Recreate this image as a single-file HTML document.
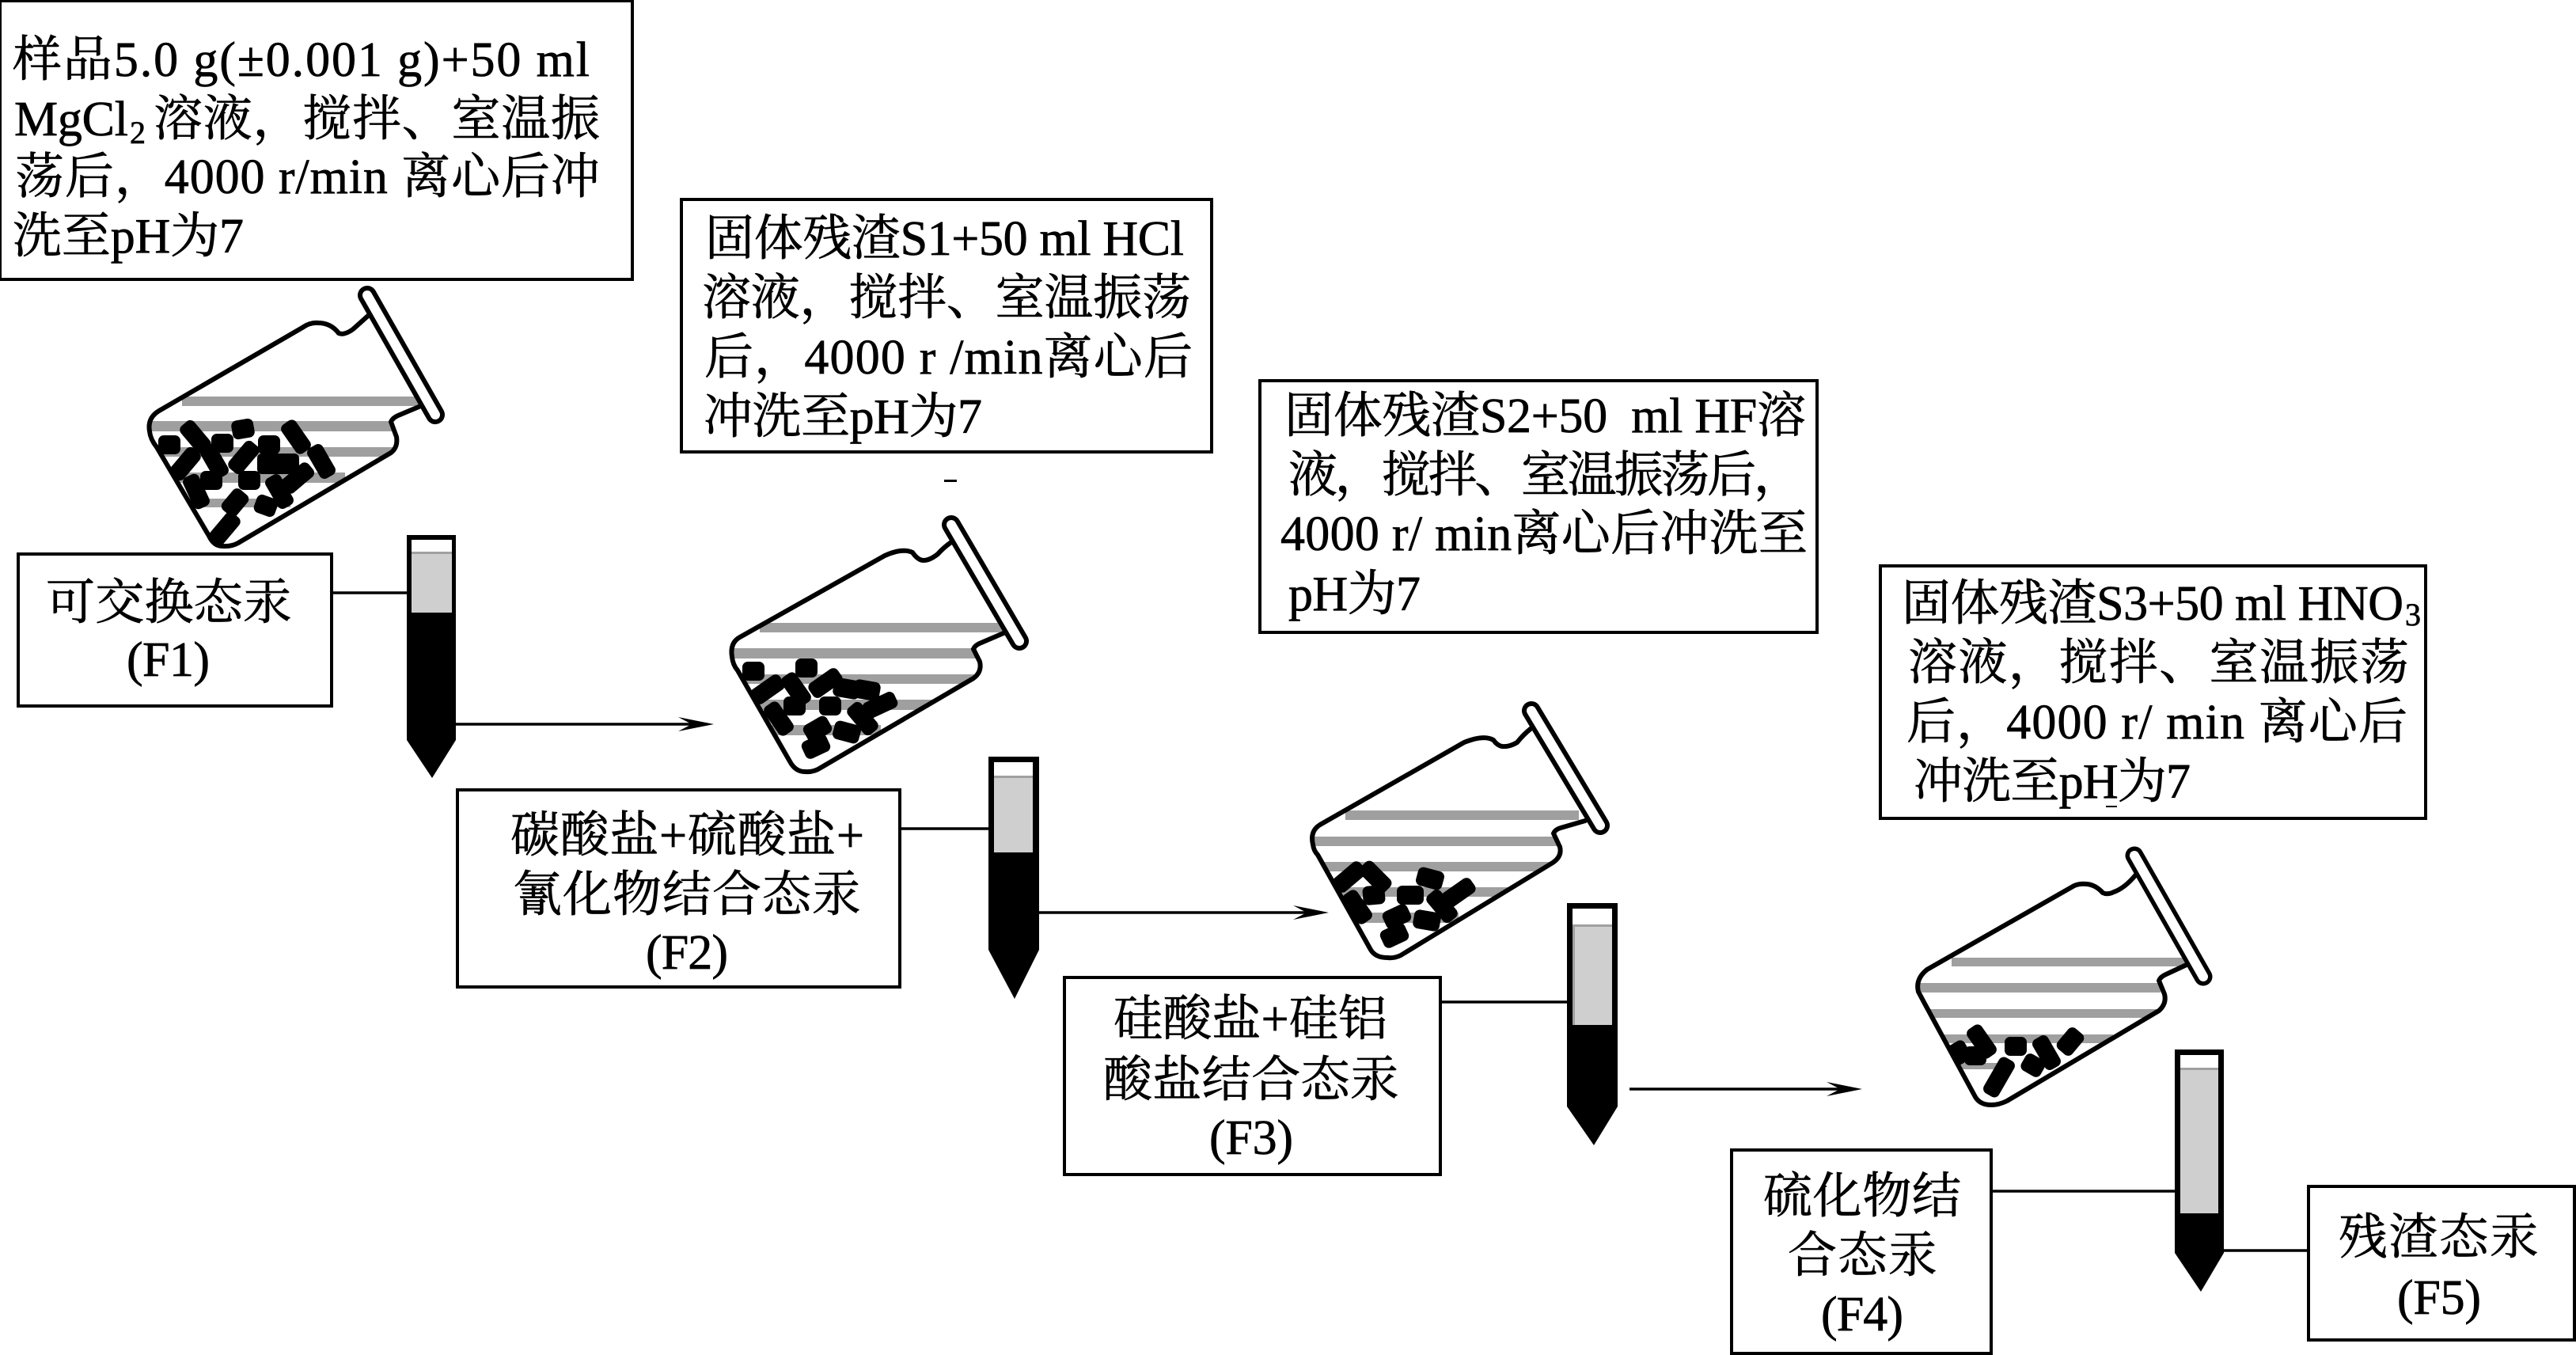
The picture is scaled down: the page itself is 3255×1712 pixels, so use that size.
<!DOCTYPE html>
<html lang="zh"><head><meta charset="utf-8"><title>Mercury sequential extraction</title>
<style>
html,body{margin:0;padding:0;background:#fff}
svg{display:block}
text{font-family:"Liberation Serif","Noto Serif CJK SC",serif;font-size:62px;fill:#000;stroke:#000;stroke-width:.7px;white-space:pre}
.sub{font-size:40px}
.box{fill:#fff;stroke:#000;stroke-width:4}
.ln{stroke:#000;stroke-width:3.5;fill:none}
.fl{fill:none;stroke:#000;stroke-width:6;stroke-linejoin:round;stroke-linecap:round}
.st{fill:#9f9f9f}
</style></head><body>
<svg width="3255" height="1712" viewBox="0 0 3255 1712" xmlns="http://www.w3.org/2000/svg">
<defs>
<rect id="L" x="-22" y="-11" width="44" height="22" rx="7"/>
<rect id="M" x="-17" y="-12" width="34" height="24" rx="7"/>
<rect id="S" x="-14" y="-12" width="28" height="24" rx="7"/>
<path id="a" d="M0 0L-45 -9L-28 0L-45 9Z"/>
<clipPath id="c1"><path d="M465 399L446 416Q435 424 428 421Q418 408 402 408Q392 407 382 414L201 519Q186 528 189 545Q190 555 198 565L264 677Q270 690 281 690Q292 691 301 686L494 572Q503 565 501 552L494 533Q496 528 503 525L534 512Z"/></clipPath>
<clipPath id="c2"><path d="M1202 685Q1192 692 1185 700Q1175 708 1167 708Q1160 708 1153 698Q1140 692 1118 702L935 805Q922 812 925 830Q926 840 932 847L998 962Q1005 975 1017 975Q1028 976 1037 970L1230 857Q1241 849 1238 836L1230 820Q1232 815 1240 812L1268 800Z"/></clipPath>
<clipPath id="c3"><path d="M1935 920Q1925 928 1917 938Q1907 944 1898 943Q1892 942 1887 935Q1875 928 1850 938L1668 1042Q1655 1050 1659 1067Q1660 1075 1665 1080L1732 1200Q1738 1210 1753 1210Q1762 1211 1770 1207L1962 1090Q1974 1082 1971 1070L1963 1053Q1965 1048 1972 1046L2003 1037Z"/></clipPath>
<clipPath id="c4"><path d="M2699 1105Q2685 1122 2671 1127Q2663 1131 2657 1128Q2648 1118 2637 1117Q2628 1116 2621 1119L2435 1225Q2420 1237 2424 1253L2432 1268L2496 1386Q2502 1396 2516 1396Q2526 1396 2536 1391L2728 1277Q2738 1268 2735 1256L2728 1239Q2730 1234 2737 1231L2765 1218Z"/></clipPath>
</defs>

<!-- Boxes -->
<rect class="box" x="0" y="1" width="799" height="352"/>
<rect class="box" x="861" y="252" width="670" height="319"/>
<rect x="1193" y="606" width="16" height="3"/>
<rect class="box" x="1592" y="481" width="704" height="318"/>
<rect class="box" x="2376" y="715" width="689" height="319"/>
<rect x="2661" y="1018" width="14" height="2"/>
<rect class="box" x="23" y="700" width="396" height="192"/>
<rect class="box" x="578" y="998" width="559" height="249"/>
<rect class="box" x="1345" y="1235" width="475" height="249"/>
<rect class="box" x="2188" y="1453" width="328" height="257"/>
<rect class="box" x="2917" y="1499" width="336" height="194"/>

<g transform="translate(0 1)">
<text x="16" y="95" textLength="729">样品5.0 g(±0.001 g)+50 ml</text>
<text x="18" y="170" textLength="144">MgCl</text><text class="sub" x="164" y="180">2</text>
<text x="194" y="170" textLength="564">溶液，搅拌、室温振</text>
<text x="19" y="243" textLength="739">荡后，4000 r/min 离心后冲</text>
<text x="16" y="318" textLength="292">洗至pH为7</text>

<text x="891" y="321" textLength="605">固体残渣S1+50 ml HCl</text>
<text x="887" y="396" textLength="618">溶液，搅拌、室温振荡</text>
<text x="890" y="471" textLength="617">后，4000 r /min离心后</text>
<text x="889" y="546" textLength="352">冲洗至pH为7</text>

<text x="1623" y="545" textLength="659">固体残渣S2+50  ml HF溶</text>
<text x="1628" y="620" textLength="650">液，搅拌、室温振荡后，</text>
<text x="1618" y="694" textLength="666">4000 r/ min离心后冲洗至</text>
<text x="1628" y="770" textLength="167">pH为7</text>

<text x="2403" y="782" textLength="634">固体残渣S3+50 ml HNO</text><text class="sub" x="3039" y="789">3</text>
<text x="2411" y="857" textLength="633">溶液，搅拌、室温振荡</text>
<text x="2409" y="932" textLength="633">后，4000 r/ min 离心后</text>
<text x="2418" y="1007" textLength="350">冲洗至pH为7</text>

<text x="58" y="781" textLength="311">可交换态汞</text>
<text x="160" y="853" textLength="105">(F1)</text>

<text x="645" y="1075" textLength="447">碳酸盐+硫酸盐+</text>
<text x="648" y="1150" textLength="440">氰化物结合态汞</text>
<text x="816" y="1223" textLength="104">(F2)</text>

<text x="1407" y="1307" textLength="346">硅酸盐+硅铝</text>
<text x="1394" y="1384" textLength="374">酸盐结合态汞</text>
<text x="1528" y="1457" textLength="106">(F3)</text>

<text x="2228" y="1531" textLength="250">硫化物结</text>
<text x="2259" y="1606" textLength="189">合态汞</text>
<text x="2301" y="1680" textLength="104">(F4)</text>

<text x="2955" y="1583" textLength="253">残渣态汞</text>
<text x="3029" y="1659" textLength="106">(F5)</text>
</g>

<!-- Connectors -->
<path class="ln" d="M419 749H514M1137 1047H1249M1820 1266H1980M2516 1505H2748M2810 1580H2917"/>
<path class="ln" d="M576 915H880M1313 1153H1655M2059 1376H2330"/>
<use href="#a" transform="translate(902 915)"/>
<use href="#a" transform="translate(1679 1153)"/>
<use href="#a" transform="translate(2353 1376)"/>

<!-- Tubes -->
<path d="M514 676H576V935L546 983L514 935Z"/><rect x="520" y="682" width="51" height="92" fill="#cfcfcf"/><rect x="520" y="682" width="51" height="15" fill="#fff"/><rect x="520" y="697" width="51" height="3" fill="#a0a0a0"/>
<path d="M1249 956H1313V1200L1282 1262L1249 1200Z"/><rect x="1256" y="963" width="49" height="114" fill="#cfcfcf"/><rect x="1256" y="963" width="49" height="17" fill="#fff"/><rect x="1256" y="980" width="49" height="3" fill="#a0a0a0"/>
<path d="M1980 1141H2044V1398L2014 1447L1980 1398Z"/><rect x="1987" y="1148" width="50" height="147" fill="#cfcfcf"/><rect x="1987" y="1148" width="50" height="20" fill="#fff"/><rect x="1987" y="1168" width="50" height="3" fill="#a0a0a0"/><rect x="1987" y="1168" width="3" height="127" fill="#a0a0a0"/>
<path d="M2748 1326H2810V1583L2781 1632L2748 1583Z"/><rect x="2755" y="1333" width="48" height="200" fill="#cfcfcf"/><rect x="2755" y="1333" width="48" height="16" fill="#fff"/><rect x="2755" y="1349" width="48" height="3" fill="#a0a0a0"/>

<!-- Flask 1 -->
<g clip-path="url(#c1)">
<rect class="st" x="230" y="501" width="300" height="12"/><rect class="st" x="185" y="532" width="320" height="13"/><rect class="st" x="190" y="565" width="310" height="12"/><rect class="st" x="190" y="597" width="246" height="13"/><rect class="st" x="200" y="630" width="167" height="11"/>
<use href="#L" transform="translate(247 552) rotate(50)"/><use href="#S" transform="translate(307 542) rotate(-10)"/><use href="#S" transform="translate(281 560)"/><use href="#S" transform="translate(214 562)"/><use href="#S" transform="translate(340 562)"/><use href="#L" transform="translate(374 552) rotate(55)"/><use href="#L" transform="translate(308 578) rotate(-50)"/><use href="#L" transform="translate(271 583) rotate(60)"/><use href="#L" transform="translate(234 586) rotate(-50)"/><rect x="325" y="573" width="53" height="26" rx="6"/><use href="#L" transform="translate(406 583) rotate(60)"/><use href="#S" transform="translate(267 607)"/><use href="#S" transform="translate(315 607)"/><use href="#L" transform="translate(376 604) rotate(-40)"/><use href="#L" transform="translate(353 621) rotate(60)"/><use href="#L" transform="translate(248 621) rotate(65)"/><use href="#M" transform="translate(297 635) rotate(-50)"/><use href="#S" transform="translate(336 639) rotate(20)"/><use href="#L" transform="translate(284 668) rotate(-50)"/>
</g>
<path class="fl" d="M465 399L446 416Q435 424 428 421Q418 408 402 408Q392 407 382 414L201 519Q186 528 189 545Q190 555 198 565L264 677Q270 690 281 690Q292 691 301 686L494 572Q503 565 501 552L494 533Q496 528 503 525L534 512"/>
<line x1="464" y1="373" x2="550" y2="524" stroke="#000" stroke-width="24" stroke-linecap="round"/><line x1="464" y1="373" x2="550" y2="524" stroke="#fff" stroke-width="12" stroke-linecap="round"/>

<!-- Flask 2 -->
<g clip-path="url(#c2)">
<rect class="st" x="960" y="787" width="310" height="12"/><rect class="st" x="920" y="819" width="320" height="13"/><rect class="st" x="920" y="852" width="320" height="12"/><rect class="st" x="920" y="884" width="300" height="13"/><rect class="st" x="920" y="916" width="193" height="13"/>
<use href="#S" transform="translate(952 848)"/><use href="#S" transform="translate(1019 844)"/><use href="#L" transform="translate(970 871) rotate(-35)"/><use href="#L" transform="translate(1006 871) rotate(55)"/><use href="#L" transform="translate(1043 863) rotate(-35)"/><use href="#M" transform="translate(1070 870) rotate(10)"/><use href="#M" transform="translate(1095 872) rotate(10)"/><use href="#L" transform="translate(1112 891) rotate(-25)"/><use href="#S" transform="translate(1004 892)"/><use href="#S" transform="translate(1049 892)"/><use href="#L" transform="translate(1090 908) rotate(50)"/><use href="#L" transform="translate(984 908) rotate(55)"/><use href="#M" transform="translate(1033 921) rotate(-30)"/><use href="#M" transform="translate(1070 925) rotate(15)"/><use href="#M" transform="translate(1031 943) rotate(-25)"/>
</g>
<path class="fl" d="M1202 685Q1192 692 1185 700Q1175 708 1167 708Q1160 708 1153 698Q1140 692 1118 702L935 805Q922 812 925 830Q926 840 932 847L998 962Q1005 975 1017 975Q1028 976 1037 970L1230 857Q1241 849 1238 836L1230 820Q1232 815 1240 812L1268 800"/>
<line x1="1202" y1="663" x2="1288" y2="810" stroke="#000" stroke-width="24" stroke-linecap="round"/><line x1="1202" y1="663" x2="1288" y2="810" stroke="#fff" stroke-width="12" stroke-linecap="round"/>

<!-- Flask 3 -->
<g clip-path="url(#c3)">
<rect class="st" x="1700" y="1024" width="295" height="12"/><rect class="st" x="1655" y="1057" width="320" height="12"/><rect class="st" x="1655" y="1089" width="320" height="12"/><rect class="st" x="1660" y="1121" width="300" height="12"/><rect class="st" x="1680" y="1153" width="163" height="13"/>
<use href="#L" transform="translate(1705 1108) rotate(-40)"/><use href="#L" transform="translate(1738 1108) rotate(45)"/><use href="#M" transform="translate(1807 1110) rotate(15)"/><use href="#S" transform="translate(1736 1131) rotate(-5)"/><use href="#M" transform="translate(1782 1131)"/><use href="#L" transform="translate(1843 1128) rotate(-35)"/><use href="#L" transform="translate(1715 1146) rotate(55)"/><use href="#L" transform="translate(1822 1145) rotate(50)"/><use href="#M" transform="translate(1765 1158) rotate(-25)"/><use href="#M" transform="translate(1803 1163) rotate(10)"/><use href="#M" transform="translate(1762 1182) rotate(-25)"/>
</g>
<path class="fl" d="M1935 920Q1925 928 1917 938Q1907 944 1898 943Q1892 942 1887 935Q1875 928 1850 938L1668 1042Q1655 1050 1659 1067Q1660 1075 1665 1080L1732 1200Q1738 1210 1753 1210Q1762 1211 1770 1207L1962 1090Q1974 1082 1971 1070L1963 1053Q1965 1048 1972 1046L2003 1037"/>
<line x1="1935" y1="898" x2="2022" y2="1043" stroke="#000" stroke-width="24" stroke-linecap="round"/><line x1="1935" y1="898" x2="2022" y2="1043" stroke="#fff" stroke-width="12" stroke-linecap="round"/>

<!-- Flask 4 -->
<g clip-path="url(#c4)">
<rect class="st" x="2466" y="1210" width="295" height="11"/><rect class="st" x="2420" y="1242" width="310" height="12"/><rect class="st" x="2420" y="1275" width="310" height="11"/><rect class="st" x="2430" y="1307" width="240" height="11"/><rect class="st" x="2470" y="1343" width="73" height="8"/>
<use href="#L" transform="translate(2504 1316) rotate(55)"/><use href="#S" transform="translate(2476 1330) rotate(60)"/><use href="#S" transform="translate(2496 1334)"/><use href="#S" transform="translate(2547 1322)"/><use href="#L" transform="translate(2586 1330) rotate(60)"/><use href="#M" transform="translate(2616 1316) rotate(-50)"/><rect x="-26" y="-11" width="52" height="22" rx="7" transform="translate(2526 1361) rotate(-60)"/><use href="#S" transform="translate(2569 1346) rotate(30)"/>
</g>
<path class="fl" d="M2699 1105Q2685 1122 2671 1127Q2663 1131 2657 1128Q2648 1118 2637 1117Q2628 1116 2621 1119L2435 1225Q2420 1237 2424 1253L2432 1268L2496 1386Q2502 1396 2516 1396Q2526 1396 2536 1391L2728 1277Q2738 1268 2735 1256L2728 1239Q2730 1234 2737 1231L2765 1218"/>
<line x1="2697" y1="1081" x2="2784" y2="1234" stroke="#000" stroke-width="23" stroke-linecap="round"/><line x1="2697" y1="1081" x2="2784" y2="1234" stroke="#fff" stroke-width="12" stroke-linecap="round"/>
</svg>
</body></html>
